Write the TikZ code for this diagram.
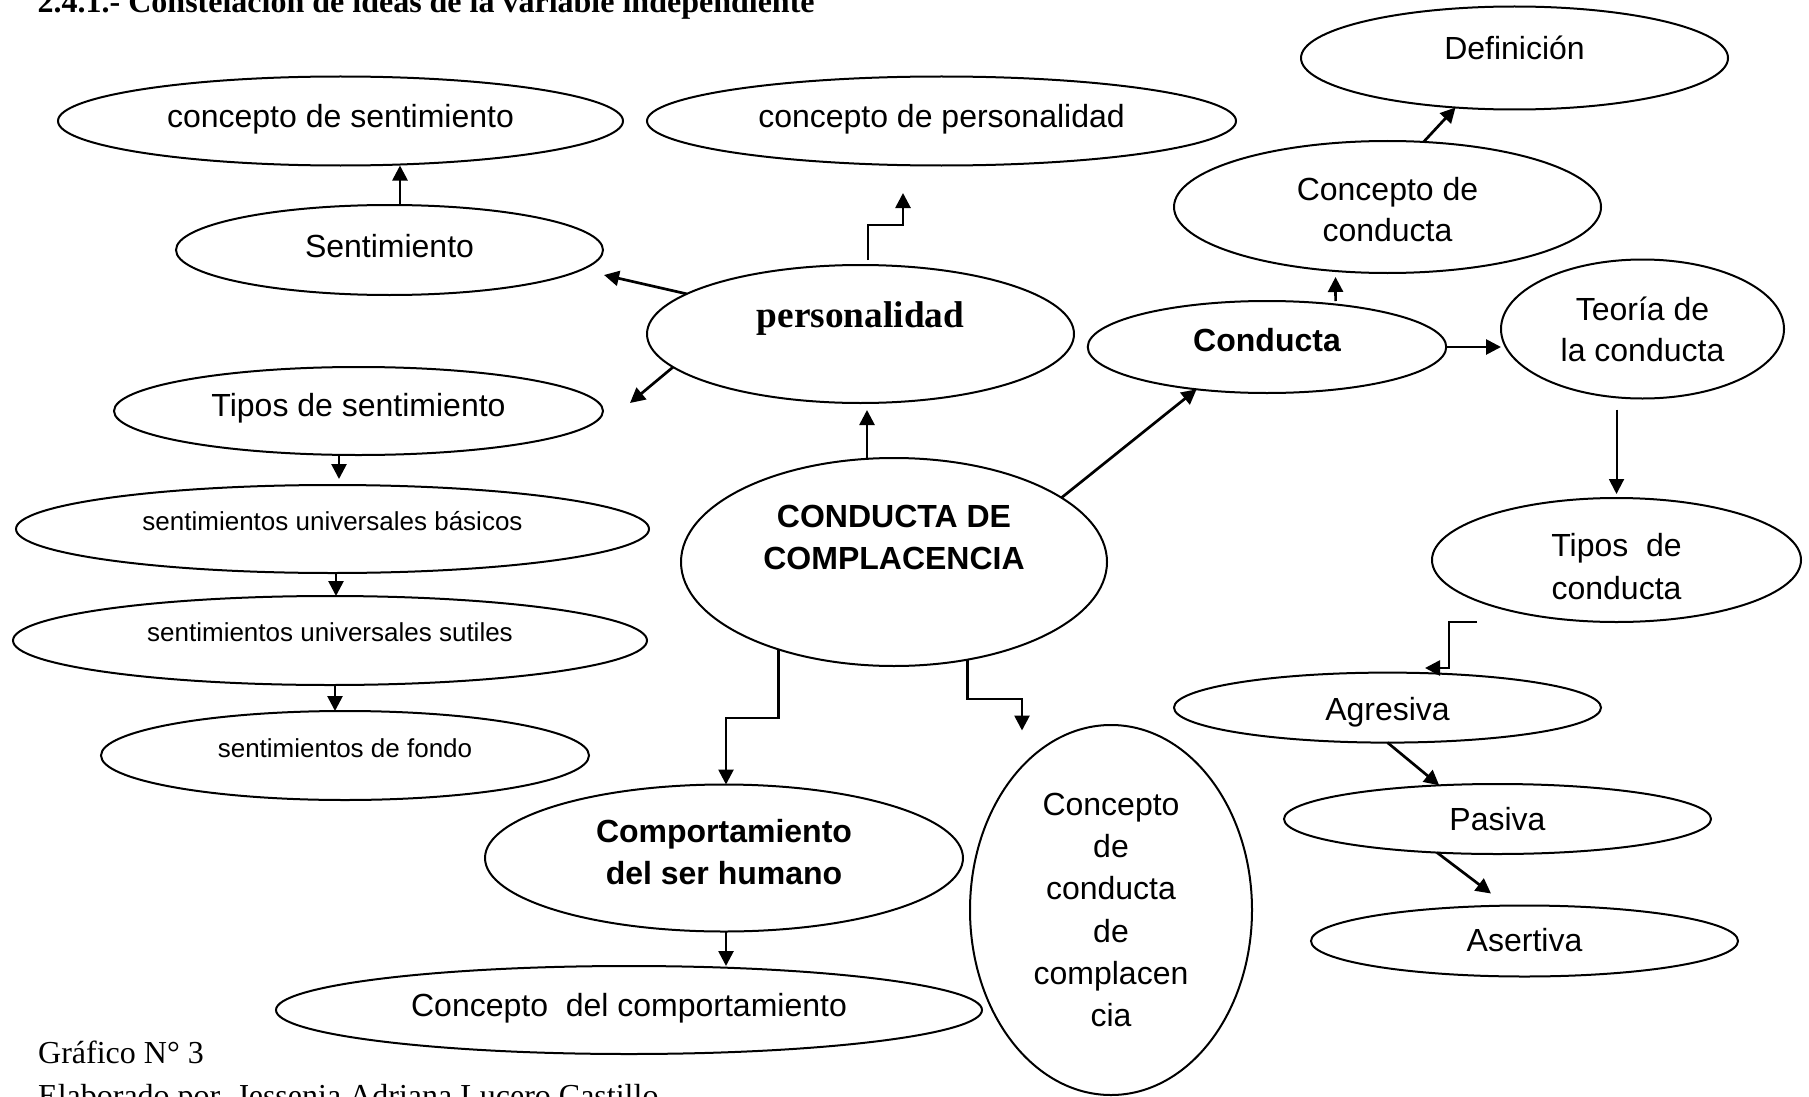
\documentclass[tikz,border=0pt]{standalone}
\usepackage{fontspec}
\setmainfont{Liberation Sans}
\newfontfamily\tnr{Liberation Serif}
\usetikzlibrary{shapes.geometric,arrows.meta,calc}
\begin{document}
\begin{tikzpicture}[x=1pt,y=-1pt,
  ell/.style={ellipse, draw, line width=2pt, inner sep=0pt, outer sep=0pt, align=center,
              font=\fontsize{32}{41}\selectfont},
  sm/.style={font=\fontsize{26}{32}\selectfont},
  bsans/.style={font=\bfseries\fontsize{32}{42}\selectfont},
  tb/.style 2 args={text height=#1, text depth=#2},
  arr/.style={line width=2.7pt, -{Triangle[length=15pt,width=15pt]}},
  plain/.style={inner sep=0pt, anchor=base west, font=\tnr\fontsize{32}{38}\selectfont}]
\useasboundingbox (0,0) rectangle (1809,1097);

% texts outside the diagram
\node[plain, font=\tnr\bfseries\fontsize{32}{38}\selectfont] (title) at (37.5,13) {2.4.1.- Constelación de ideas de la variable independiente};
\node[plain] (graf) at (38,1063) {Gráfico N° 3};
\node[plain] (elab) at (38,1106) {Elaborado por\ \ Jessenia Adriana Lucero Castillo};

% ellipses
\node[ell, minimum width=427pt, minimum height=103pt, tb={4pt}{0pt}] (def) at (1514.5,58) {Definición};
\node[ell, minimum width=565pt, minimum height=89pt, tb={14pt}{0pt}] (csent) at (340.5,121) {concepto de sentimiento};
\node[ell, minimum width=589pt, minimum height=89pt, tb={14pt}{0pt}] (cpers) at (941.5,121) {concepto de personalidad};
\node[ell, minimum width=427pt, minimum height=132pt, text height=70pt] (ccond) at (1387.5,207) {Concepto de\\conducta};
\node[ell, minimum width=427pt, minimum height=90pt, tb={14pt}{0pt}] (sent) at (389.5,250) {Sentimiento};
\node[ell, minimum width=427pt, minimum height=138pt, tb={0pt}{14pt},
      font=\tnr\bfseries\fontsize{37.3}{44}\selectfont] (pers) at (860.5,334) {personalidad};
\node[ell, bsans, minimum width=358.5pt, minimum height=92pt, tb={8pt}{0pt}] (cond) at (1267,347) {Conducta};
\node[ell, minimum width=283pt, minimum height=139pt] (teo) at (1642.5,329) {Teoría de\\la conducta};
\node[ell, minimum width=489pt, minimum height=88pt, tb={10pt}{0pt}] (tsent) at (358.5,411) {Tipos de sentimiento};
\node[ell, sm, minimum width=633pt, minimum height=88pt, tb={2pt}{0pt}] (bas) at (332.5,529) {sentimientos universales básicos};
\node[ell, bsans, minimum width=426pt, minimum height=208pt, text depth=50pt] (cc) at (894,562) {CONDUCTA DE\\COMPLACENCIA};
\node[ell, font=\fontsize{32}{43}\selectfont, minimum width=369pt, minimum height=124pt, text height=80pt] (ttipos) at (1616.5,560) {Tipos\ \ de\\conducta};
\node[ell, sm, minimum width=634pt, minimum height=89pt, tb={1pt}{0pt}] (sut) at (330,640.5) {sentimientos universales sutiles};
\node[ell, minimum width=427pt, minimum height=70pt, tb={25pt}{0pt}] (agr) at (1387.5,707.6) {Agresiva};
\node[ell, sm, minimum width=488pt, minimum height=89pt, tb={3pt}{0pt}] (fondo) at (345,755.5) {sentimientos de fondo};
\node[ell, minimum width=427pt, minimum height=70pt, tb={23pt}{0pt}] (pas) at (1497.5,819) {Pasiva};
\node[ell, bsans, minimum width=478pt, minimum height=147pt, text depth=12pt] (comp) at (724,858) {Comportamiento\\del ser humano};
\node[ell, font=\fontsize{32}{42.2}\selectfont, minimum width=282pt, minimum height=370pt] (ccc) at (1111,910) {Concepto\\de\\conducta\\de\\complacen\\cia};
\node[ell, minimum width=427pt, minimum height=71pt, tb={21pt}{0pt}] (ase) at (1524.5,941) {Asertiva};
\node[ell, minimum width=706pt, minimum height=88pt, tb={12pt}{0pt}] (ccomp) at (629,1010) {Concepto\ \ del comportamiento};

% free ends
\coordinate (sentR) at (604,275);
\coordinate (tsentR) at (630,403);
\coordinate (cpersB) at (903,193);
\coordinate (stepA) at (726,718);
\coordinate (stepB) at (1022,699);
\coordinate (cccT) at (1022,730.5);
\coordinate (q1) at (1477,622);
\coordinate (q2) at (1425,668);
\coordinate (aseT) at (1491,893.5);

% connectors
\draw[arr] ([xshift=10.5pt]sent.north) -- ([xshift=59.5pt]csent.south);
\draw[arr] (pers.167.8) -- (sentR);
\draw[arr] (pers.190.6) -- (tsentR);
\draw[arr, shorten <=5pt] ([xshift=7.5pt]pers.north) -- ++(0,-40) -| (cpersB);
\draw[arr, shorten >=7pt] ([xshift=-27pt]cc.north) -- ([xshift=6.5pt]pers.south);
\draw[arr, shorten >=6pt] ([xshift=-19.5pt]tsent.south) -- ([xshift=6.5pt]bas.north);
\draw[arr] ([xshift=3.5pt]bas.south) -- ([xshift=6pt]sut.north);
\draw[arr] ([xshift=5pt]sut.south) -- ([xshift=-10pt]fondo.north);
\draw[arr] (cc.217.3) |- (stepA) -- (stepA |- comp.north);
\draw[arr] ([xshift=2pt]comp.south) -- ([xshift=97pt]ccomp.north);
\draw[arr] (cc.307.2) |- (stepB) -- (cccT);
\draw[arr] (cc.21.7) -- (cond.211.1);
\draw[arr, shorten >=4pt] ([xshift=68.6pt]cond.north) -- ([xshift=-52pt]ccond.south);
\draw[arr] (ccond.61.7) -- (def.220);
\draw[arr] (cond.east) -- (cond.east -| teo.west);
\draw[arr, line width=2pt, shorten <=11pt, shorten >=4pt] ([xshift=-26pt]teo.south) -- (ttipos.north);
\draw[arr] (q1) -- ++(-28,0) |- (q2);
\draw[arr] (agr.south) -- (pas.150.5);
\draw[arr] (pas.209.5) -- (aseT);
\end{tikzpicture}
\end{document}
